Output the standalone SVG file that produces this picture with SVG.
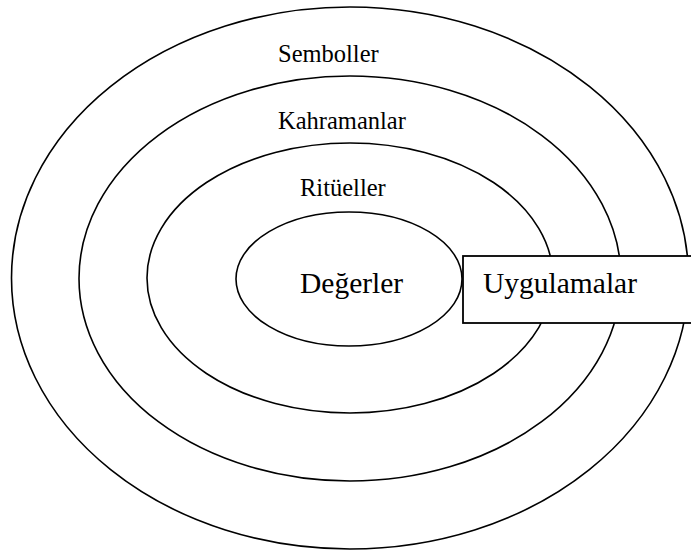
<svg xmlns="http://www.w3.org/2000/svg" width="691" height="550" viewBox="0 0 691 550">
  <style>
    .ring { fill: none; stroke: #000; stroke-width: 1.6; }
    .box { fill: #fff; stroke: #000; stroke-width: 1.8; }
    .lbl { font-family: "Liberation Serif", "Times New Roman", serif; fill: #000; }
    .small { font-size: 24.5px; }
    .big { font-size: 29.5px; }
  </style>
  <rect width="691" height="550" fill="#fff"/>

  <!-- concentric layers, outermost first -->
  <g id="semboller">
    <ellipse class="ring" cx="350" cy="278" rx="338.5" ry="271"/>
    <text class="lbl small" x="278" y="62">Semboller</text>
  </g>
  <g id="kahramanlar">
    <ellipse class="ring" cx="350" cy="278.5" rx="271" ry="202.5"/>
    <text class="lbl small" x="278" y="129">Kahramanlar</text>
  </g>
  <g id="ritueller">
    <ellipse class="ring" cx="350" cy="278" rx="203" ry="135"/>
    <text class="lbl small" x="300" y="196">Ritüeller</text>
  </g>
  <g id="degerler">
    <ellipse class="ring" cx="349" cy="279" rx="113" ry="67"/>
    <text class="lbl big" x="300" y="293">Değerler</text>
  </g>

  <!-- practices box cutting across the layers -->
  <g id="uygulamalar">
    <rect class="box" x="463" y="256" width="240" height="67"/>
    <text class="lbl big" x="483" y="293">Uygulamalar</text>
  </g>
</svg>
